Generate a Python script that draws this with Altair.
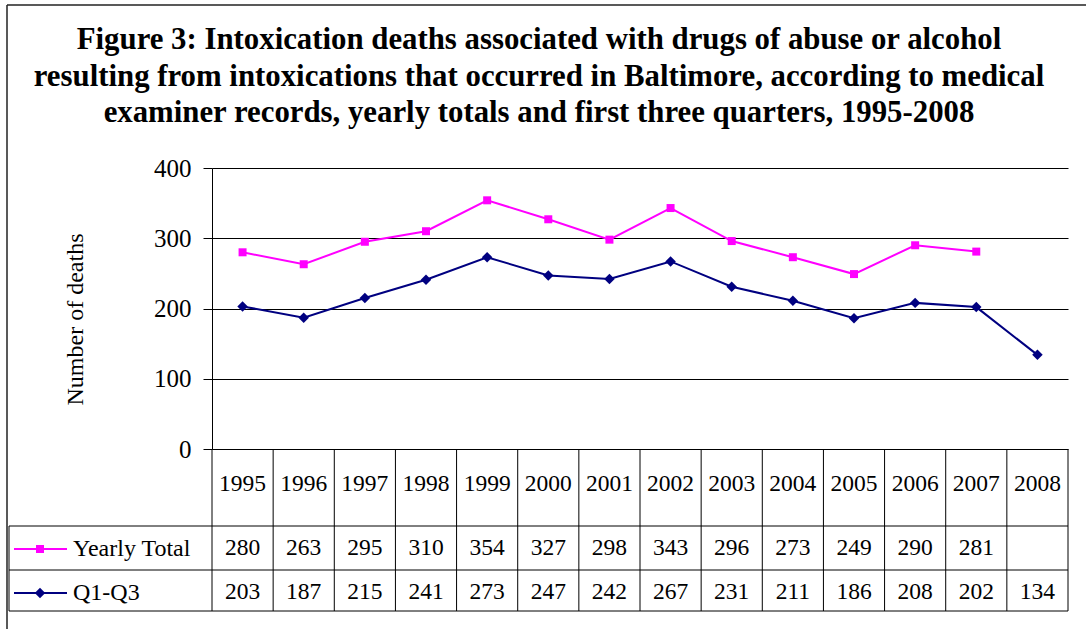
import altair as alt
import pandas as pd

# ---- data -------------------------------------------------------------
YEARS = [1995, 1996, 1997, 1998, 1999, 2000, 2001, 2002, 2003, 2004, 2005, 2006, 2007, 2008]
YEARLY_TOTAL = [280, 263, 295, 310, 354, 327, 298, 343, 296, 273, 249, 290, 281, None]
Q1_Q3 = [203, 187, 215, 241, 273, 247, 242, 267, 231, 211, 186, 208, 202, 134]
SERIES = ["Yearly Total", "Q1-Q3"]
Y_TICKS = [0, 100, 200, 300, 400]
TITLE_LINES = [
    "Figure 3: Intoxication deaths associated with drugs of abuse or alcohol",
    "resulting from intoxications that occurred in Baltimore, according to medical",
    "examiner records, yearly totals and first three quarters, 1995-2008",
]

# ---- styling / layout ---------------------------------------------------
FONT = "Liberation Serif"
PINK = "#FF00FF"
NAVY = "#000080"
W = 856          # plot + table width
H_PLOT = 281     # height of the line plot
H = 443          # plot + data table
ROW_YEAR_END = 358
ROW_TOTAL_END = 402
LEFT = -203      # left edge of the legend column

rows = []
for series, values in zip(SERIES, [YEARLY_TOTAL, Q1_Q3]):
    for year, v in zip(YEARS, values):
        if v is not None:
            rows.append({"year": year, "series": series, "value": v})
long = pd.DataFrame(rows)
years_df = pd.DataFrame({"year": YEARS})
edges_df = pd.DataFrame({"year": YEARS})
one = pd.DataFrame({"k": [0]})

x_scale = alt.Scale(domain=[YEARS[0] - 0.5, YEARS[-1] + 0.5], nice=False, zero=False)
x_enc = alt.X("year:Q", scale=x_scale, axis=None)

y_enc = alt.Y(
    "value:Q",
    scale=alt.Scale(domain=[0, 400], range=[H_PLOT, 0], nice=False),
    axis=alt.Axis(
        values=Y_TICKS, title="Number of deaths", grid=True,
        gridColor="black", gridWidth=1, domainColor="black", domainWidth=1,
        tickColor="black", tickSize=9, labelPadding=12,
        labelFont=FONT, labelFontSize=25, labelColor="black",
        titleFont=FONT, titleFontSize=24, titleFontWeight="normal",
        titleColor="black", titleAngle=270, titleX=-137, titleY=151,
        titleAlign="center", titleBaseline="middle",
    ),
)


def series_line(name, color, shape, size):
    return (
        alt.Chart(long)
        .transform_filter(alt.datum.series == name)
        .mark_line(color=color, strokeWidth=2,
                   point=alt.OverlayMarkDef(shape=shape, size=size, filled=True,
                                            color=color, opacity=1))
        .encode(x=x_enc, y=y_enc)
    )


def hrule(y, x1, x2):
    return alt.Chart(one).mark_rule(color="black", strokeWidth=1).encode(
        x=alt.value(x1), x2=alt.value(x2), y=alt.value(y))


def vrule(x, y1, y2, color="black", width=1):
    return alt.Chart(one).mark_rule(color=color, strokeWidth=width).encode(
        x=alt.value(x), y=alt.value(y1), y2=alt.value(y2))


def cell_text(name, y):
    return (
        alt.Chart(long)
        .transform_filter(alt.datum.series == name)
        .mark_text(font=FONT, fontSize=23.5, color="black", baseline="middle")
        .encode(x=x_enc, y=alt.value(y), text=alt.Text("value:Q", format="d"))
    )


def legend_key(name, color, shape, size, y):
    line = alt.Chart(one).mark_rule(color=color, strokeWidth=2).encode(
        x=alt.value(-198), x2=alt.value(-145), y=alt.value(y))
    pt = alt.Chart(one).mark_point(shape=shape, size=size, filled=True,
                                   color=color, opacity=1).encode(
        x=alt.value(-172), y=alt.value(y))
    label = alt.Chart(one).mark_text(font=FONT, fontSize=24, color="black",
                                     align="left", baseline="middle",
                                     text=name).encode(
        x=alt.value(-139), y=alt.value(y))
    return [line, pt, label]


# table grid
table_vlines = (
    alt.Chart(edges_df)
    .transform_calculate(edge="datum.year - 0.5")
    .mark_rule(color="black", strokeWidth=1)
    .encode(x=alt.X("edge:Q", scale=x_scale, axis=None),
            y=alt.value(H_PLOT), y2=alt.value(H))
)
table_vline_end = (
    alt.Chart(edges_df)
    .transform_aggregate(last="max(year)")
    .transform_calculate(edge="datum.last + 0.5")
    .mark_rule(color="black", strokeWidth=1)
    .encode(x=alt.X("edge:Q", scale=x_scale, axis=None),
            y=alt.value(H_PLOT), y2=alt.value(H))
)

year_text = (
    alt.Chart(years_df)
    .mark_text(font=FONT, fontSize=23.5, color="black", baseline="middle")
    .encode(x=x_enc, y=alt.value(316), text=alt.Text("year:Q", format="d"))
)

title = alt.Chart(one).mark_text(
    font=FONT, fontSize=30.8, fontWeight="bold", color="black",
    align="center", baseline="alphabetic", lineHeight=36.5, text=TITLE_LINES,
).encode(x=alt.value(327), y=alt.value(-119))

# outer frame (top and left edges)
frame = [
    alt.Chart(one).mark_rule(color="#222222", strokeWidth=1.5).encode(
        x=alt.value(-205), x2=alt.value(W + 18), y=alt.value(-163)),
    vrule(-205, -163, H + 18, color="#222222", width=1.5),
]

layers = (
    frame
    + [title,
       series_line("Yearly Total", PINK, "square", 64),
       series_line("Q1-Q3", NAVY, "diamond", 110),
       table_vlines, table_vline_end,
       hrule(ROW_YEAR_END, LEFT, W),
       hrule(ROW_TOTAL_END, LEFT, W),
       hrule(H, LEFT, W),
       vrule(LEFT, ROW_YEAR_END, H),
       year_text,
       cell_text("Yearly Total", 380),
       cell_text("Q1-Q3", 424)]
    + legend_key("Yearly Total", PINK, "square", 64, 381)
    + legend_key("Q1-Q3", NAVY, "diamond", 110, 425)
)

chart = (
    alt.layer(*layers)
    .properties(
        width=W, height=H,
        autosize=alt.AutoSizeParams(type="none"),
        padding={"left": 212, "top": 168, "right": 18, "bottom": 18},
        background="white",
    )
    .configure_view(strokeWidth=0)
)

chart.save("out.html", embed_options={"renderer": "svg", "actions": False})
